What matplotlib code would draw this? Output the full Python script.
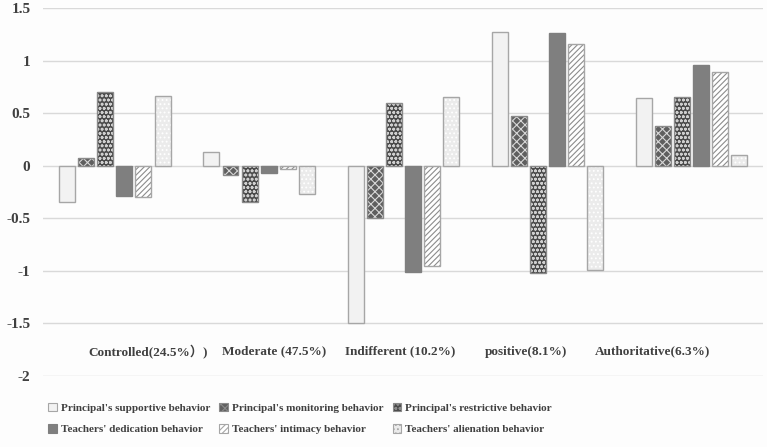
import matplotlib
matplotlib.use("Agg")
import matplotlib.pyplot as plt
import numpy as np
from matplotlib.patches import Patch

categories = ["Controlled(24.5%）)", "Moderate (47.5%)", "Indifferent (10.2%)",
              "positive(8.1%)", "Authoritative(6.3%)"]
series_names = ["Principal's supportive behavior", "Principal's monitoring behavior",
                "Principal's restrictive behavior", "Teachers' dedication behavior",
                "Teachers' intimacy behavior", "Teachers' alienation behavior"]
supportive = [-0.35, 0.13, -1.50, 1.27, 0.64]
monitoring = [0.07, -0.09, -0.50, 0.47, 0.38]
restrictive = [0.70, -0.35, 0.60, -1.02, 0.65]
dedication = [-0.285, -0.07, -1.01, 1.26, 0.96]
intimacy = [-0.30, -0.03, -0.95, 1.16, 0.89]
alienation = [0.66, -0.27, 0.65, -0.99, 0.10]
yticks = [-2, -1.5, -1, -0.5, 0, 0.5, 1, 1.5]
ytick_labels = ["-2", "-1.5", "-1", "-0.5", "0", "0.5", "1", "1.5"]

series = [supportive, monitoring, restrictive, dedication, intimacy, alienation]
# (face, hatch, hatch colour, edge)
styles = [
    ("#f2f2f2", None, None, "#a6a6a6"),
    ("#5f5f5f", "xxxx", "#d8d8d8", "#8a8a8a"),
    ("#4a4a4a", "oooo", "#cfcfcf", "#8a8a8a"),
    ("#7f7f7f", None, None, "#7f7f7f"),
    ("#ffffff", "//////", "#8c8c8c", "#a6a6a6"),
    ("#ebebeb", "....", "#ffffff", "#a6a6a6"),
]

plt.rcParams["hatch.linewidth"] = 0.8
serif = ["Liberation Serif", "Noto Sans CJK SC"]
tcol = "#404040"

fig = plt.figure(figsize=(7.67, 4.47), dpi=100)
fig.patch.set_facecolor("#fdfdfd")
ax = fig.add_axes([0.056, 0.159, 0.939, 0.823])
ax.set_facecolor("#fdfdfd")

x = np.arange(len(categories))
step = 0.132
width = 0.111
for k, (vals, (fc, hatch, hc, ec)) in enumerate(zip(series, styles)):
    pos = x + (k - 2.5) * step
    if hatch:
        ax.bar(pos, vals, width, color=fc, edgecolor=hc, hatch=hatch, linewidth=0, zorder=3)
        ax.bar(pos, vals, width, fill=False, edgecolor=ec, linewidth=1.0, zorder=4)
    else:
        ax.bar(pos, vals, width, color=fc, edgecolor=ec, linewidth=1.0, zorder=3)

ax.set_xlim(-0.5, len(categories) - 0.5)
ax.set_ylim(-2, 1.5)
ax.set_yticks(yticks)
ax.set_yticklabels(ytick_labels)
ax.set_xticks([])
ax.grid(axis="y", color="#d9d9d9", linewidth=1.0, zorder=0)
for s in ax.spines.values():
    s.set_visible(False)
ax.tick_params(axis="y", length=0, pad=9, labelcolor=tcol)
for lab in ax.get_yticklabels():
    lab.set_fontfamily(serif)
    lab.set_fontweight("bold")
    lab.set_fontsize(11)

# category labels (placed low inside the plot, as in the reference)
for i, c in enumerate(categories):
    ax.text(0.229 + 0.875 * i, -1.77, c, ha="center", va="center",
            family=serif, fontweight="bold", fontsize=9.5, color=tcol)

# legend
order = [0, 3, 1, 4, 2, 5]
leg_handles = []
for k in order:
    fc, hatch, hc, ec = styles[k]
    leg_handles.append(Patch(facecolor=fc, edgecolor=ec, hatch=hatch, linewidth=0.8))
leg = fig.legend(leg_handles, [series_names[k] for k in order], ncol=3,
                 loc="center left", bbox_to_anchor=(0.05, 0.063), frameon=False,
                 prop={"family": serif, "weight": "bold", "size": 8},
                 handlelength=0.75, handleheight=0.75, handletextpad=0.4,
                 columnspacing=0.8, labelspacing=1.0, labelcolor=tcol)

fig.savefig("out.png", dpi=100, facecolor=fig.get_facecolor())
